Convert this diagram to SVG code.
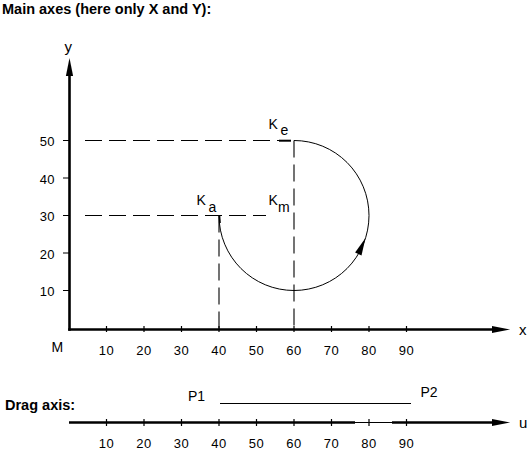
<svg xmlns="http://www.w3.org/2000/svg" width="530" height="451" viewBox="0 0 530 451">
<style>
text{font-family:"Liberation Sans",Arial,sans-serif;fill:#000}
.title{font-size:14.5px;font-weight:bold}
.num{font-size:13px;letter-spacing:0.4px}
.lbl{font-size:14px}
.ax{font-size:15px}
.axis{stroke:#000;stroke-width:2.6;fill:none}
.tick{stroke:#000;stroke-width:1.2;fill:none}
.dash{stroke:#000;stroke-width:1.1;stroke-dasharray:17 7;fill:none}
.thin{stroke:#000;stroke-width:1;fill:none}
</style>
<defs>
<marker id="arr" markerUnits="userSpaceOnUse" markerWidth="20" markerHeight="10" viewBox="0 -5 20 10" refX="2" refY="0" orient="auto">
<path d="M0,-3.6 L18,0 L0,3.6 Z" fill="#000"/>
</marker>
</defs>
<rect width="530" height="451" fill="#fff"/>
<text class="title" x="2" y="14">Main axes (here only X and Y):</text>
<g id="main-axes">
<line class="axis" x1="69.5" y1="330.8" x2="69.5" y2="74" marker-end="url(#arr)"/>
<line class="axis" x1="68.2" y1="329.5" x2="494" y2="329.5" marker-end="url(#arr)"/>
<text class="ax" x="64.5" y="52">y</text>
<text class="ax" x="519" y="335">x</text>
<text class="lbl" x="51.5" y="352">M</text>
</g>
<g id="y-ticks">
<path class="tick" d="M63,140.5H70 M63,178H70 M63,215.5H70 M63,253H70 M63,290.5H70"/>
<g class="num" text-anchor="end">
<text x="55" y="146.3">50</text>
<text x="55" y="183.8">40</text>
<text x="55" y="221.3">30</text>
<text x="55" y="258.8">20</text>
<text x="55" y="296.3">10</text>
</g>
</g>
<g id="x-ticks">
<path class="tick" d="M106.5,326V332 M144,326V332 M181.5,326V332 M219,326V332 M256.5,326V332 M294,326V332 M331.5,326V332 M369,326V332 M406.5,326V332"/>
<g class="num" text-anchor="middle">
<text x="106.5" y="355">10</text>
<text x="144" y="355">20</text>
<text x="181.5" y="355">30</text>
<text x="219" y="355">40</text>
<text x="256.5" y="355">50</text>
<text x="294" y="355">60</text>
<text x="331.5" y="355">70</text>
<text x="369" y="355">80</text>
<text x="406.5" y="355">90</text>
</g>
</g>
<g id="connectors">
<line class="dash" x1="85" y1="140.5" x2="290" y2="140.5"/>
<line class="dash" x1="85" y1="215.5" x2="266" y2="215.5"/>
<line class="dash" x1="294" y1="140.5" x2="294" y2="329"/>
<line class="dash" x1="219" y1="215.5" x2="219" y2="329"/>
<line x1="279" y1="140.7" x2="291" y2="140.7" stroke="#000" stroke-width="2"/>
<path class="thin" d="M219,215.5 A75,75 0 1 0 294,140.5"/>
<line x1="219.5" y1="215.5" x2="220" y2="223" stroke="#000" stroke-width="1.6"/>
<polygon points="365.5,238 361.5,255.4 355.1,252.6" fill="#000"/>
</g>
<g id="point-Ka">
<text class="lbl" x="196.5" y="205">K</text>
<text class="lbl" x="208.5" y="212">a</text>
</g>
<g id="point-Ke">
<text class="lbl" x="268.5" y="128.5">K</text>
<text class="lbl" x="280.5" y="135">e</text>
</g>
<g id="point-Km">
<text class="lbl" x="268.5" y="205">K</text>
<text class="lbl" x="278" y="212">m</text>
</g>
<g id="drag-axis">
<text class="title" x="5" y="410">Drag axis:</text>
<line class="axis" x1="69" y1="422.5" x2="355" y2="422.5"/>
<line class="thin" x1="355" y1="422.5" x2="392" y2="422.5"/>
<line class="axis" x1="392" y1="422.5" x2="494" y2="422.5" marker-end="url(#arr)"/>
<text class="ax" x="519" y="428">u</text>
<path class="tick" d="M106.5,419V426 M144,419V426 M181.5,419V426 M219,419V426 M256.5,419V426 M294,419V426 M331.5,419V426 M369,419V426 M406.5,419V426"/>
<g class="num" text-anchor="middle">
<text x="106.5" y="448">10</text>
<text x="144" y="448">20</text>
<text x="181.5" y="448">30</text>
<text x="219" y="448">40</text>
<text x="256.5" y="448">50</text>
<text x="294" y="448">60</text>
<text x="331.5" y="448">70</text>
<text x="369" y="448">80</text>
<text x="406.5" y="448">90</text>
</g>
</g>
<g id="segment-P1-P2">
<line class="thin" x1="220" y1="403.5" x2="411" y2="403.5"/>
<text class="lbl" x="188" y="401">P1</text>
<text class="lbl" x="420.5" y="397">P2</text>
</g>
</svg>
